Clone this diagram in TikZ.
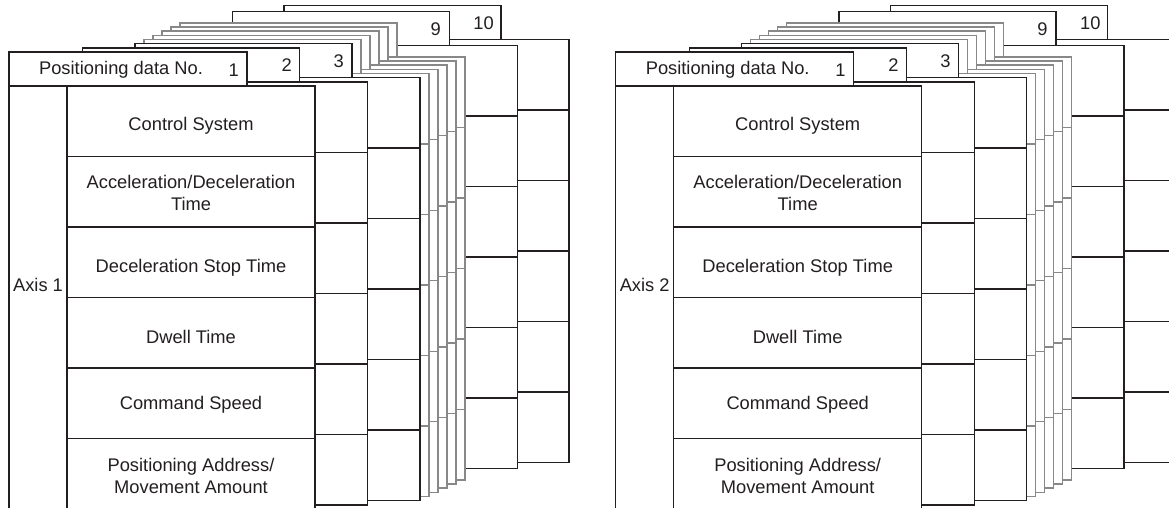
\documentclass[tikz,border=0pt]{standalone}
\usepackage{fontspec}
\setmainfont{Liberation Sans}
\definecolor{ink}{HTML}{231F20}
\definecolor{gline}{HTML}{888888}
\tikzset{
  blk/.style={draw=ink, line width=1.5pt, fill=white, inner sep=0pt, outer sep=0pt},
  gry/.style={draw=gline, line width=1.35pt, fill=white, inner sep=0pt, outer sep=0pt},
  lbl/.style={text=ink, font=\fontsize{18.3}{21.6}\selectfont, inner sep=0pt, align=center},
  cellbox/.style={anchor=north west, minimum width=248, minimum height=70.5},
}
\begin{document}
\begin{tikzpicture}[x=1pt,y=-1pt]
\useasboundingbox (0,0) rectangle (1169,508);
\clip (0,0) rectangle (1169,508);
\foreach \p/\ox/\an in {1/0/1,2/606.7/2}{
  \begin{scope}[shift={(\ox,0)}]
    % sheets behind, from back to front
    \foreach \s/\dx/\dy/\st in {10/254/-46.5/blk, 9/202.3/-40.5/blk, 8/150/-29/gry, 7/141/-25/gry, 6/132/-21/gry, 5/123/-16.7/gry, 4/114/-12.5/gry, 3/105/-8.3/blk, 2/52.7/-4.2/blk}{
      \begin{scope}[shift={(\dx,\dy)}]
        \foreach \r in {1,...,6}
          \node[\st, cellbox] (p\p-s\s-r\r) at (67,{86+70.5*(\r-1)}) {};
        \node[\st, anchor=north east, minimum width=217, minimum height=34] (p\p-s\s-tab) at (247,52) {};
      \end{scope}
    }
    % front sheet
    \node[blk, anchor=north west, minimum width=58, minimum height=423] (p\p-s1-ax) at (9,86) {};
    \foreach \r in {1,...,6}
      \node[blk, cellbox] (p\p-s1-r\r) at (67,{86+70.5*(\r-1)}) {};
    \node[lbl] (p\p-t1) at (191,126) {Control System};
    \node[lbl] (p\p-t2) at (191,193) {Acceleration/Deceleration\\Time};
    \node[lbl] (p\p-t3) at (191,268) {Deceleration Stop Time};
    \node[lbl] (p\p-t4) at (191,337) {Dwell Time};
    \node[lbl] (p\p-t5) at (191,405) {Command Speed};
    \node[lbl] (p\p-t6) at (191,476) {Positioning Address/\\Movement Amount};
    \node[blk, anchor=north west, minimum width=238, minimum height=34] (p\p-s1-tab) at (9,52) {};
    \node[lbl] (p\p-title) at (121,70) {Positioning data No.};
    \node[lbl] (p\p-axis) at (38,285) {Axis \an};
    \node[lbl, anchor=east] (p\p-n1) at (239,70) {1};
    \node[lbl, anchor=east] (p\p-n2) at (292,65.5) {2};
    \node[lbl, anchor=east] (p\p-n3) at (344,61.2) {3};
    \node[lbl, anchor=east] (p\p-n9) at (441,29) {9};
    \node[lbl, anchor=east] (p\p-n10) at (494,23) {10};
  \end{scope}
}
\end{tikzpicture}
\end{document}
